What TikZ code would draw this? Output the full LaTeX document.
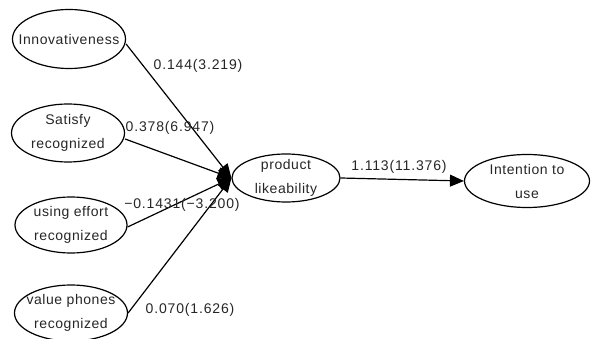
\documentclass[tikz,border=0pt]{standalone}
\usepackage{fontspec}
\setmainfont{Liberation Sans}
\newfontfamily\coeffont[LetterSpace=6]{Liberation Sans}
\newfontfamily\latfont[LetterSpace=4]{Liberation Sans}
\usetikzlibrary{shapes.geometric,arrows.meta}
\begin{document}
\begin{tikzpicture}[x=1pt,y=-1pt,
  lat/.style={draw, ellipse, line width=1.2pt, inner sep=0pt},
  lbl/.style={inner sep=0pt, align=center, text=black!85,
    font=\latfont\fontsize{14}{24}\selectfont},
  pth/.style={line width=1.2pt, -{Triangle[length=14pt,width=12pt]}},
  coef/.style={font=\coeffont\fontsize{14}{15}\selectfont, text=black!85, inner sep=0pt}]
\useasboundingbox (0,0) rectangle (597,339);
\node[lat, minimum width=113pt, minimum height=59pt,
  label={[lbl]center:Innovativeness}] (inno) at (69,39) {};
\node[lat, minimum width=113pt, minimum height=58pt,
  label={[lbl]center:{Satisfy\\recognized}}] (sat) at (68,133) {};
\node[lat, minimum width=112pt, minimum height=56pt,
  label={[lbl]center:{using effort\\recognized}}] (eff) at (71,225) {};
\node[lat, minimum width=113pt, minimum height=56pt,
  label={[lbl]center:{value phones\\recognized}}] (val) at (71,313) {};
\node[lat, minimum width=108pt, minimum height=48pt,
  label={[lbl]center:{product\\likeability}}] (prod) at (286,178) {};
\node[lat, minimum width=125pt, minimum height=53pt,
  label={[lbl]center:{Intention to\\use}}] (int) at (527,181) {};

\draw[pth] (inno.east) ++(0,5) -- (prod.west);
\draw[pth] (sat.east) ++(0,6) -- (prod.west);
\draw[pth] (eff.east) ++(0,2) -- (prod.west);
\draw[pth] (val.east) -- (prod.west);
\draw[pth] (prod.east) -- (int.west);

\node[coef] (c1) at (198,66) {0.144(3.219)};
\node[coef] (c2) at (170,128) {0.378(6.947)};
\node[coef] (c3) at (182,205) {−0.1431(−3.200)};
\node[coef] (c4) at (190,310) {0.070(1.626)};
\node[coef] (c5) at (399,167) {1.113(11.376)};
\end{tikzpicture}
\end{document}
